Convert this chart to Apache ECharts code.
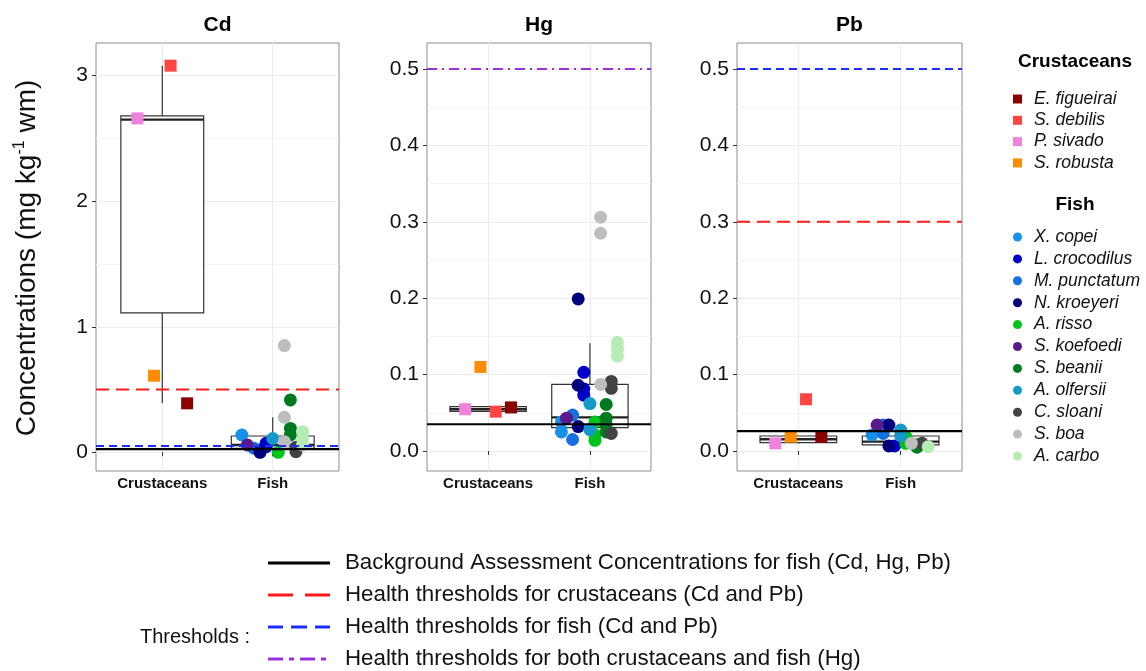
<!DOCTYPE html>
<html><head><meta charset="utf-8">
<script src="https://cdn.jsdelivr.net/npm/echarts@6/dist/echarts.min.js"></script>
<style>html,body{margin:0;padding:0;background:#fff}#c{width:1146px;height:671px}</style>
</head><body><div id="c"></div>
<script>
// ---------------- data ----------------
const groups = ['Crustaceans', 'Fish'];
const metals = ['Cd', 'Hg', 'Pb'];

const crustSpecies = ['E. figueirai', 'S. debilis', 'P. sivado', 'S. robusta'];
const crustColors = ['#8B0000', '#FF4444', '#EE82DD', '#FF8C00'];
const crustDodge = [0.225, 0.075, -0.225, -0.075];

const fishSpecies = ['X. copei', 'L. crocodilus', 'M. punctatum', 'N. kroeyeri', 'A. risso', 'S. koefoedi', 'S. beanii', 'A. olfersii', 'C. sloani', 'S. boa', 'A. carbo'];
const fishColors = ['#1591EA', '#0000CC', '#1670E0', '#00007F', '#00C41A', '#5B1A8C', '#007A1F', '#1499C8', '#434343', '#BDBDBD', '#B5EDB5'];
const fishDodge = [-0.28, -0.06, -0.17, -0.115, 0.05, -0.23, 0.16, 0.0, 0.21, 0.105, 0.27];

// crustacean values, same order as crustSpecies
const crustCd = [0.39, 3.08, 2.66, 0.61];
const crustHg = [0.057, 0.0515, 0.0546, 0.110];
const crustPb = [0.0187, 0.0677, 0.010, 0.0187];

// fish values, same order as fishSpecies
const fishCd = [
  [0.138], [0.072, 0.045], [0.032], [0.005, 0.0], [0.0], [0.058],
  [0.417, 0.19, 0.138], [0.11], [0.005, 0.04], [0.85, 0.279, 0.085], [0.164, 0.11, 0.058]
];
const fishHg = [
  [0.038, 0.025], [0.103, 0.081, 0.073], [0.047, 0.015], [0.199, 0.086, 0.032], [0.038, 0.021, 0.014], [0.043],
  [0.061, 0.043, 0.034, 0.025], [0.062, 0.028], [0.091, 0.082, 0.023], [0.306, 0.285, 0.087], [0.142, 0.133, 0.124]
];
const fishPb = [
  [0.021], [0.0066], [0.034, 0.023], [0.034, 0.0066], [0.0187, 0.010], [0.034],
  [0.008, 0.005], [0.0275, 0.02], [0.010], [0.010], [0.0057]
];

// boxplot stats [min, Q1, median, Q3, max] for Crustaceans, Fish
const boxCd = [[0.39, 1.11, 2.65, 2.68, 3.08], [0.0, 0.032, 0.058, 0.13, 0.28]];
const boxHg = [[0.0515, 0.0518, 0.0546, 0.058, 0.058], [0.013, 0.0305, 0.044, 0.0873, 0.141]];
const boxPb = [[0.010, 0.011, 0.0153, 0.0196, 0.0196], [0.0057, 0.008, 0.0122, 0.0196, 0.0275]];

// thresholds per metal (Cd, Hg, Pb)
const thrNames = [
  'Background Assessment Concentrations for fish (Cd, Hg, Pb)',
  'Health thresholds for crustaceans (Cd and Pb)',
  'Health thresholds for fish (Cd and Pb)',
  'Health thresholds for both crustaceans and fish (Hg)'
];
const thrBAC = [0.026, 0.035, 0.026];
const thrCrust = [0.5, null, 0.3];
const thrFish = [0.05, null, 0.5];
const thrBoth = [null, 0.5, null];

// tick labels
const cdTicks = [0, 1, 2, 3];
const cdMinor = [0.5, 1.5, 2.5];
const hgPbTicks = [0, 0.1, 0.2, 0.3, 0.4, 0.5];
const hgPbMinor = [0.05, 0.15, 0.25, 0.35, 0.45];

// ---------------- styling / layout ----------------
const FONT = 'Liberation Sans, Arial, Helvetica, sans-serif';
const gridsPos = [
  { left: 96, top: 43, width: 243, height: 428 },
  { left: 427, top: 43, width: 224, height: 428 },
  { left: 737, top: 43, width: 225, height: 428 }
];
const yRanges = [[-0.149, 3.2605], [-0.0262, 0.534], [-0.0262, 0.534]];
const ticksPer = [cdTicks, hgPbTicks, hgPbTicks];
const minorPer = [cdMinor, hgPbMinor, hgPbMinor];
const thrColors = ['#000000', '#FF1A1A', '#1A2EFF', '#9B30D9'];
const thrStyles = [
  { color: thrColors[0], width: 2.2, type: 'solid' },
  { color: thrColors[1], width: 2, type: [13, 7] },
  { color: thrColors[2], width: 2, type: [8, 5] },
  { color: thrColors[3], width: 2, type: [10, 5, 2, 5] }
];
// legend key shapes (dash patterns drawn as paths, 62 x 3)
const thrIcons = [
  'path://M0,0h62v3h-62z',
  'path://M0,0h25v3h-25z M37,0h25v3h-25z',
  'path://M0,0h15v3h-15z M23,0h16v3h-16z M47,0h15v3h-15z',
  'path://M0,0h15v3h-15z M21,0h5v3h-5z M32,0h15v3h-15z M53,0h5v3h-5z M61.9,0h0.1v3h-0.1z'
];
const X_MIN = 0.4, X_MAX = 2.6;

const grid = [], xAxis = [], yAxis = [], series = [];
gridsPos.forEach((g, p) => {
  grid.push(Object.assign({ show: true, borderColor: '#8c8c8c', borderWidth: 1, backgroundColor: '#fff' }, g));
  xAxis.push({
    type: 'value', gridIndex: p, min: X_MIN, max: X_MAX,
    axisLine: { show: false },
    axisTick: { show: true, length: 4, lineStyle: { color: '#333' }, customValues: [1, 2] },
    axisLabel: {
      customValues: [1, 2], margin: 5,
      formatter: v => groups[Math.round(v) - 1] || '',
      fontFamily: FONT, fontSize: 15, fontWeight: 'bold', color: '#111'
    },
    splitLine: { show: true, lineStyle: { color: '#ebebeb', width: 1 } }
  });
  const dec = p === 0 ? 0 : 1;
  yAxis.push({
    type: 'value', gridIndex: p, min: yRanges[p][0], max: yRanges[p][1],
    axisLine: { show: false },
    axisTick: { show: true, length: 4, lineStyle: { color: '#333' }, customValues: ticksPer[p] },
    axisLabel: {
      customValues: ticksPer[p], margin: 8,
      formatter: v => Number(v).toFixed(dec),
      fontFamily: FONT, fontSize: 21, color: '#111'
    },
    splitLine: { show: true, lineStyle: { color: '#ebebeb', width: 1 } }
  });
  yAxis.push({
    type: 'value', gridIndex: p, min: yRanges[p][0], max: yRanges[p][1],
    axisLine: { show: false },
    axisTick: { show: false, customValues: minorPer[p] },
    axisLabel: { show: false, customValues: minorPer[p] },
    splitLine: { show: true, lineStyle: { color: '#f4f4f4', width: 1 } }
  });
});

const crustVals = [crustCd, crustHg, crustPb];
const fishVals = [fishCd, fishHg, fishPb];
const boxes = [boxCd, boxHg, boxPb];
const thrVals = [thrBAC, thrCrust, thrFish, thrBoth];

for (let p = 0; p < 3; p++) {
  series.push({
    type: 'custom', xAxisIndex: p, yAxisIndex: p * 2, z: 1, silent: true,
    data: boxes[p].map((b, i) => [i + 1].concat(b)),
    renderItem: function (params, api) {
      const x = api.value(0);
      const lo = api.coord([x - 0.375, api.value(2)]);
      const hi = api.coord([x + 0.375, api.value(4)]);
      const med = api.coord([x, api.value(3)]);
      const mn = api.coord([x, api.value(1)]);
      const mx = api.coord([x, api.value(5)]);
      const xc = med[0];
      const st = { stroke: '#333', lineWidth: 1.2 };
      return {
        type: 'group', children: [
          { type: 'line', shape: { x1: xc, y1: mx[1], x2: xc, y2: hi[1] }, style: st },
          { type: 'line', shape: { x1: xc, y1: lo[1], x2: xc, y2: mn[1] }, style: st },
          { type: 'rect', shape: { x: lo[0], y: hi[1], width: hi[0] - lo[0], height: lo[1] - hi[1] }, style: { fill: '#fff', stroke: '#333', lineWidth: 1.2 } },
          { type: 'line', shape: { x1: lo[0], y1: med[1], x2: hi[0], y2: med[1] }, style: { stroke: '#222', lineWidth: 2.4 } }
        ]
      };
    }
  });
  crustSpecies.forEach((name, s) => {
    series.push({
      type: 'scatter', name: name, xAxisIndex: p, yAxisIndex: p * 2, z: 3,
      symbol: 'rect', symbolSize: 12,
      itemStyle: { color: crustColors[s], opacity: 1 },
      data: [[1 + crustDodge[s], crustVals[p][s]]]
    });
  });
  fishSpecies.forEach((name, s) => {
    series.push({
      type: 'scatter', name: name, xAxisIndex: p, yAxisIndex: p * 2, z: 3,
      symbol: 'circle', symbolSize: 13,
      itemStyle: { color: fishColors[s], opacity: 1 },
      data: fishVals[p][s].map(v => [2 + fishDodge[s], v])
    });
  });
  thrVals.forEach((arr, k) => {
    if (arr[p] === null) return;
    series.push({
      type: 'line', name: thrNames[k], xAxisIndex: p, yAxisIndex: p * 2, z: 5, silent: true,
      symbol: 'none', animation: false,
      lineStyle: thrStyles[k], itemStyle: { color: thrColors[k] },
      data: [[X_MIN, arr[p]], [X_MAX, arr[p]]]
    });
  });
}

const legendText = { fontFamily: FONT, color: '#111' };
const legend = [
  {
    orient: 'vertical', left: 1013, top: 89.5, padding: 0, itemWidth: 9, itemHeight: 9, itemGap: 2.3,
    selectedMode: false,
    textStyle: Object.assign({ fontSize: 17.5, fontStyle: 'italic', lineHeight: 19, padding: [0, 0, 0, 7] }, legendText),
    data: crustSpecies.map(n => ({ name: n, icon: 'rect' }))
  },
  {
    orient: 'vertical', left: 1013, top: 227.5, padding: 0, itemWidth: 9, itemHeight: 9, itemGap: 2.9,
    selectedMode: false,
    textStyle: Object.assign({ fontSize: 17.5, fontStyle: 'italic', lineHeight: 19, padding: [0, 0, 0, 7] }, legendText),
    data: fishSpecies.map(n => ({ name: n, icon: 'circle' }))
  }
];
const thrRowsY = [563, 595, 627, 659];
thrNames.forEach((n, k) => {
  legend.push({
    orient: 'horizontal', left: 268, top: thrRowsY[k] - 12, padding: 0, itemWidth: 62, itemHeight: 3,
    selectedMode: false, symbolKeepAspect: false,
    textStyle: Object.assign({ fontSize: 22.3, lineHeight: 24, padding: [0, 0, 0, 10] }, legendText),
    data: [{ name: n, icon: thrIcons[k], itemStyle: { color: thrColors[k], opacity: 1, borderWidth: 0 } }]
  });
});

const graphic = [
  { type: 'text', x: 217.5, y: 25, style: { text: 'Cd', align: 'center', verticalAlign: 'middle', font: 'bold 21px ' + FONT, fill: '#000' } },
  { type: 'text', x: 539, y: 25, style: { text: 'Hg', align: 'center', verticalAlign: 'middle', font: 'bold 21px ' + FONT, fill: '#000' } },
  { type: 'text', x: 849.5, y: 25, style: { text: 'Pb', align: 'center', verticalAlign: 'middle', font: 'bold 21px ' + FONT, fill: '#000' } },
  { type: 'text', x: 1075, y: 62, style: { text: 'Crustaceans', align: 'center', verticalAlign: 'middle', font: 'bold 19px ' + FONT, fill: '#000' } },
  { type: 'text', x: 1075, y: 205, style: { text: 'Fish', align: 'center', verticalAlign: 'middle', font: 'bold 19px ' + FONT, fill: '#000' } },
  { type: 'text', x: 195, y: 637, style: { text: 'Thresholds :', align: 'center', verticalAlign: 'middle', font: '20px ' + FONT, fill: '#111' } },
  {
    type: 'text', x: 27, y: 258, rotation: Math.PI / 2,
    style: {
      text: 'Concentrations (mg kg{s|-1} wm)', align: 'center', verticalAlign: 'middle',
      fontFamily: FONT, fontSize: 28, fill: '#111',
      rich: { s: { fontFamily: FONT, fontSize: 16, fill: '#111', padding: [0, 0, 14, 0] } }
    }
  }
];

const chart = echarts.init(document.getElementById('c'), null, { renderer: 'canvas' });
chart.setOption({
  animation: false,
  backgroundColor: '#fff',
  grid, xAxis, yAxis, series, legend, graphic
});
</script>
</body></html>
